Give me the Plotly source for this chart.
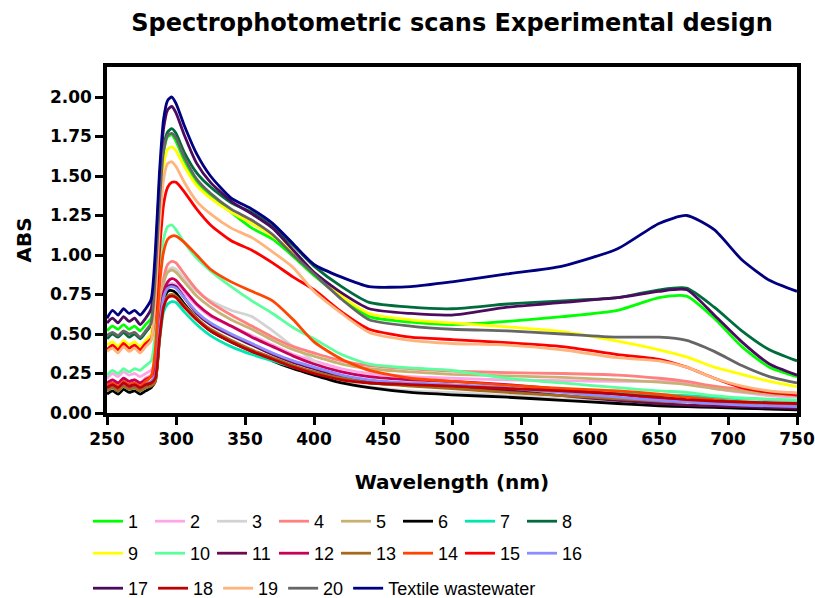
import plotly.graph_objects as go

wavelength = [250, 254, 258, 262, 266, 270, 274, 278, 282, 285, 288, 291, 294, 297, 300,
              306, 315, 325, 340, 355, 370, 385, 400, 420, 440, 470, 500, 540, 580, 620,
              650, 670, 690, 710, 730, 750]

s1 = [0.52, 0.55, 0.53, 0.56, 0.53, 0.55, 0.52, 0.56, 0.60, 0.88, 1.35, 1.65, 1.75, 1.76, 1.72,
      1.60, 1.46, 1.37, 1.27, 1.17, 1.10, 0.99, 0.87, 0.73, 0.61, 0.575, 0.56, 0.58, 0.61, 0.65,
      0.73, 0.74, 0.60, 0.42, 0.29, 0.23]
s2 = [0.22, 0.25, 0.23, 0.26, 0.24, 0.25, 0.23, 0.25, 0.27, 0.32, 0.58, 0.76, 0.81, 0.82, 0.81,
      0.76, 0.68, 0.61, 0.55, 0.49, 0.43, 0.37, 0.33, 0.28, 0.25, 0.23, 0.22, 0.21, 0.205, 0.20,
      0.20, 0.19, 0.155, 0.13, 0.11, 0.10]
s3 = [0.15, 0.17, 0.14, 0.18, 0.15, 0.16, 0.14, 0.17, 0.19, 0.26, 0.58, 0.82, 0.90, 0.92, 0.91,
      0.85, 0.77, 0.71, 0.65, 0.61, 0.52, 0.42, 0.33, 0.20, 0.165, 0.14, 0.13, 0.11, 0.09, 0.075,
      0.06, 0.05, 0.045, 0.04, 0.035, 0.03]
s4 = [0.18, 0.21, 0.19, 0.22, 0.20, 0.21, 0.19, 0.22, 0.24, 0.30, 0.62, 0.85, 0.94, 0.96, 0.95,
      0.88, 0.78, 0.70, 0.62, 0.55, 0.48, 0.42, 0.38, 0.33, 0.30, 0.28, 0.265, 0.255, 0.25, 0.24,
      0.22, 0.20, 0.17, 0.15, 0.135, 0.125]
s5 = [0.17, 0.19, 0.17, 0.20, 0.18, 0.19, 0.17, 0.19, 0.20, 0.22, 0.55, 0.82, 0.89, 0.905, 0.89,
      0.83, 0.74, 0.67, 0.59, 0.53, 0.46, 0.40, 0.36, 0.31, 0.28, 0.26, 0.245, 0.235, 0.225, 0.21,
      0.195, 0.18, 0.155, 0.135, 0.12, 0.11]
s6 = [0.12, 0.14, 0.12, 0.15, 0.13, 0.14, 0.12, 0.14, 0.16, 0.20, 0.48, 0.70, 0.77, 0.775, 0.76,
      0.69, 0.60, 0.52, 0.45, 0.39, 0.33, 0.28, 0.24, 0.19, 0.16, 0.13, 0.115, 0.10, 0.08, 0.06,
      0.045, 0.04, 0.035, 0.03, 0.025, 0.02]
s7 = [0.14, 0.16, 0.14, 0.17, 0.15, 0.16, 0.14, 0.16, 0.18, 0.22, 0.45, 0.64, 0.69, 0.705, 0.70,
      0.64, 0.56, 0.49, 0.42, 0.37, 0.33, 0.29, 0.26, 0.22, 0.19, 0.175, 0.165, 0.15, 0.135, 0.125,
      0.115, 0.11, 0.10, 0.09, 0.085, 0.08]
s8 = [0.47, 0.50, 0.48, 0.51, 0.48, 0.50, 0.47, 0.51, 0.56, 0.85, 1.35, 1.68, 1.78, 1.80, 1.77,
      1.65, 1.52, 1.43, 1.33, 1.27, 1.18, 1.06, 0.93, 0.80, 0.70, 0.67, 0.66, 0.69, 0.71, 0.73,
      0.78, 0.79, 0.67, 0.52, 0.40, 0.33]
s9 = [0.43, 0.45, 0.42, 0.46, 0.43, 0.45, 0.42, 0.46, 0.50, 0.78, 1.25, 1.57, 1.67, 1.685, 1.66,
      1.56, 1.44, 1.36, 1.27, 1.20, 1.12, 1.02, 0.89, 0.74, 0.63, 0.59, 0.57, 0.545, 0.515, 0.455,
      0.40, 0.355, 0.29, 0.245, 0.20, 0.167]
s10 = [0.24, 0.27, 0.25, 0.28, 0.26, 0.28, 0.27, 0.30, 0.33, 0.50, 0.90, 1.10, 1.18, 1.19, 1.16,
       1.08, 0.98, 0.90, 0.80, 0.71, 0.63, 0.54, 0.47, 0.37, 0.31, 0.285, 0.27, 0.22, 0.19, 0.16,
       0.14, 0.13, 0.11, 0.095, 0.088, 0.082]
s11 = [0.15, 0.17, 0.15, 0.18, 0.16, 0.17, 0.15, 0.17, 0.19, 0.22, 0.50, 0.73, 0.80, 0.81, 0.80,
       0.73, 0.63, 0.56, 0.49, 0.43, 0.37, 0.32, 0.28, 0.23, 0.20, 0.18, 0.17, 0.14, 0.11, 0.08,
       0.06, 0.05, 0.045, 0.04, 0.035, 0.03]
s12 = [0.19, 0.21, 0.19, 0.22, 0.20, 0.21, 0.19, 0.21, 0.23, 0.28, 0.55, 0.76, 0.83, 0.85, 0.84,
       0.78, 0.69, 0.62, 0.55, 0.48, 0.42, 0.36, 0.31, 0.26, 0.23, 0.21, 0.20, 0.18, 0.15, 0.12,
       0.09, 0.075, 0.065, 0.06, 0.055, 0.05]
s13 = [0.14, 0.16, 0.14, 0.17, 0.15, 0.16, 0.14, 0.16, 0.17, 0.20, 0.46, 0.68, 0.74, 0.75, 0.74,
       0.68, 0.60, 0.53, 0.46, 0.40, 0.35, 0.30, 0.26, 0.22, 0.19, 0.17, 0.155, 0.13, 0.11, 0.09,
       0.075, 0.07, 0.06, 0.055, 0.05, 0.045]
s14 = [0.17, 0.19, 0.17, 0.20, 0.18, 0.19, 0.17, 0.20, 0.23, 0.40, 0.80, 1.02, 1.10, 1.12, 1.12,
       1.08, 1.00, 0.91, 0.83, 0.77, 0.71, 0.59, 0.45, 0.34, 0.27, 0.22, 0.20, 0.175, 0.155, 0.14,
       0.12, 0.10, 0.085, 0.07, 0.06, 0.055]
s15 = [0.40, 0.43, 0.40, 0.44, 0.41, 0.43, 0.40, 0.44, 0.47, 0.65, 1.02, 1.32, 1.43, 1.46, 1.46,
       1.40, 1.29, 1.19, 1.09, 1.03, 0.95, 0.86, 0.78, 0.64, 0.53, 0.48, 0.465, 0.445, 0.42, 0.37,
       0.34, 0.29, 0.22, 0.16, 0.13, 0.114]
s16 = [0.16, 0.18, 0.16, 0.19, 0.17, 0.18, 0.16, 0.18, 0.20, 0.24, 0.52, 0.73, 0.79, 0.80, 0.79,
       0.73, 0.64, 0.57, 0.50, 0.44, 0.38, 0.33, 0.29, 0.24, 0.21, 0.19, 0.18, 0.16, 0.13, 0.10,
       0.08, 0.07, 0.06, 0.05, 0.045, 0.04]
s17 = [0.57, 0.60, 0.57, 0.61, 0.58, 0.60, 0.56, 0.60, 0.66, 0.95, 1.45, 1.80, 1.92, 1.94, 1.90,
       1.76, 1.58, 1.46, 1.34, 1.26, 1.17, 1.03, 0.89, 0.76, 0.66, 0.63, 0.62, 0.67, 0.70, 0.73,
       0.77, 0.78, 0.62, 0.45, 0.31, 0.24]
s18 = [0.16, 0.18, 0.16, 0.19, 0.17, 0.18, 0.16, 0.18, 0.19, 0.22, 0.47, 0.67, 0.73, 0.74, 0.73,
       0.67, 0.59, 0.52, 0.45, 0.39, 0.34, 0.29, 0.25, 0.21, 0.19, 0.18, 0.17, 0.155, 0.14, 0.12,
       0.10, 0.085, 0.075, 0.07, 0.065, 0.06]
s19 = [0.39, 0.41, 0.38, 0.42, 0.39, 0.41, 0.38, 0.42, 0.46, 0.72, 1.18, 1.48, 1.58, 1.59, 1.56,
       1.46, 1.34, 1.26, 1.17, 1.11, 1.02, 0.92, 0.77, 0.63, 0.51, 0.46, 0.44, 0.43, 0.40, 0.35,
       0.33, 0.29, 0.22, 0.17, 0.14, 0.126]
s20 = [0.49, 0.51, 0.49, 0.52, 0.50, 0.51, 0.48, 0.52, 0.57, 0.86, 1.33, 1.66, 1.76, 1.77, 1.74,
       1.62, 1.48, 1.39, 1.29, 1.22, 1.13, 1.00, 0.88, 0.72, 0.59, 0.55, 0.53, 0.52, 0.50, 0.48,
       0.48, 0.46, 0.39, 0.30, 0.23, 0.19]
textile = [0.60, 0.65, 0.62, 0.66, 0.63, 0.65, 0.62, 0.66, 0.72, 1.02, 1.52, 1.86, 1.98, 2.00, 1.96,
           1.82, 1.64, 1.50, 1.36, 1.29, 1.20, 1.07, 0.94, 0.86, 0.80, 0.80, 0.83, 0.88, 0.93, 1.04,
           1.20, 1.25, 1.16, 0.97, 0.84, 0.77]

names = ["1", "2", "3", "4", "5", "6", "7", "8",
         "9", "10", "11", "12", "13", "14", "15", "16",
         "17", "18", "19", "20", "Textile wastewater"]
series = [s1, s2, s3, s4, s5, s6, s7, s8, s9, s10, s11, s12, s13, s14, s15, s16,
          s17, s18, s19, s20, textile]
colors = ["#00FF00", "#FFA6E6", "#D3D3D3", "#FF8080", "#C8B273", "#000000", "#00E6AE", "#006B3C",
          "#FFFF00", "#5CFF9D", "#6C0A52", "#C80058", "#A66A1E", "#FF4500", "#FF0000", "#8C8CFF",
          "#4D0B5F", "#C00000", "#FFB47C", "#666666", "#000080"]

legend_ids = ["legend"] * 8 + ["legend2"] * 8 + ["legend3"] * 5

fig = go.Figure()
for name, ys, col, lg in zip(names, series, colors, legend_ids):
    fig.add_trace(go.Scatter(
        x=wavelength, y=ys, name=name, mode="lines",
        line=dict(color=col, width=2.8, shape="spline", smoothing=0.6),
        legend=lg,
    ))

bold = "DejaVu Sans"
leg_font = dict(family="Liberation Sans, Arial", size=18, color="black")
leg_common = dict(orientation="h", xref="container", yref="container",
                  xanchor="left", yanchor="top", x=0.108,
                  font=leg_font, itemwidth=30,
                  bgcolor="rgba(0,0,0,0)", tracegroupgap=0)

fig.update_layout(
    width=815, height=598,
    margin=dict(l=107, r=18, t=67, b=185, autoexpand=False),
    paper_bgcolor="white", plot_bgcolor="white",
    title=dict(text="Spectrophotometric scans Experimental design",
               x=0.5, xref="paper", xanchor="center", y=0.963, yref="container",
               yanchor="middle",
               font=dict(family=bold, size=24, color="black", weight="bold")),
    legend=dict(leg_common, y=1 - 503 / 598, entrywidth=17, entrywidthmode="pixels"),
    legend2=dict(leg_common, y=1 - 535 / 598, entrywidth=17, entrywidthmode="pixels"),
    legend3=dict(leg_common, y=1 - 570 / 598),
    showlegend=True,
)

fig.update_xaxes(
    range=[250, 750], tickmode="linear", tick0=250, dtick=50, automargin=False,
    showgrid=False, zeroline=False,
    showline=True, linecolor="black", linewidth=3.5, mirror=True,
    ticks="outside", ticklen=8, tickwidth=3, tickcolor="black",
    tickfont=dict(family=bold, size=17, color="black", weight="bold"),
    title=dict(text="Wavelength (nm)", standoff=28,
               font=dict(family=bold, size=20, color="black", weight="bold")),
)
fig.update_yaxes(
    range=[0, 2.19], tickmode="linear", tick0=0, dtick=0.25, tickformat=".2f", automargin=False,
    showgrid=False, zeroline=False,
    showline=True, linecolor="black", linewidth=3.5, mirror=True,
    ticks="outside", ticklen=8, tickwidth=3, tickcolor="black",
    tickfont=dict(family=bold, size=17, color="black", weight="bold"),
    title=dict(text="ABS", standoff=14,
               font=dict(family=bold, size=20, color="black", weight="bold")),
)

fig.write_html("out.html")
